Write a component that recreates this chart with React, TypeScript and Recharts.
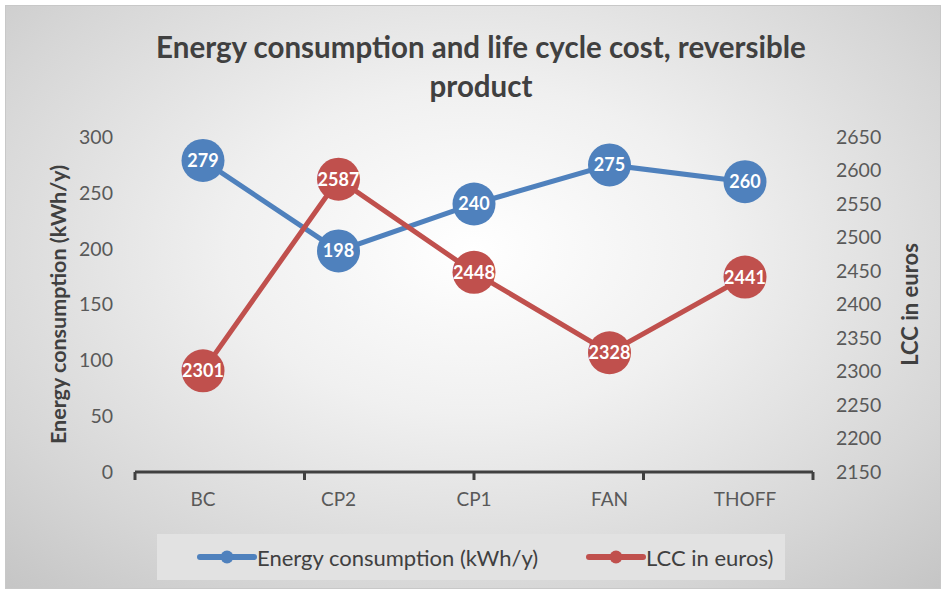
import { Label, Line, LineChart, XAxis, YAxis } from "recharts";

const categories = ["BC", "CP2", "CP1", "FAN", "THOFF"];
const energyValues = [279, 198, 240, 275, 260];
const lccValues = [2301, 2587, 2448, 2328, 2441];
const energyTicks = [0, 50, 100, 150, 200, 250, 300];
const lccTicks = [2150, 2200, 2250, 2300, 2350, 2400, 2450, 2500, 2550, 2600, 2650];
const boundaryTicks = [0, 1, 2, 3, 4, 5];

const data = categories.map((name, i) => ({ name, energy: energyValues[i], lcc: lccValues[i] }));

const FONT = "Lato, 'Open Sans', sans-serif";
const BLUE = "#4f81bd";
const RED = "#c0504d";

const renderDot = (color: string) => (props: any) => {
  const { cx, cy, value, index } = props;
  return (
    <g key={`${color}-${index}`}>
      <circle cx={cx} cy={cy} r={21.5} fill={color} />
      <text x={cx} y={cy} dy="0.36em" textAnchor="middle" fill="#fff" fontSize={18} fontWeight="bold" fontFamily={FONT}>
        {value}
      </text>
    </g>
  );
};

function LegendItem({ color, text, left }: { color: string; text: string; left: number }) {
  return (
    <div style={{ position: "absolute", left, top: 0, height: 46, display: "flex", alignItems: "center" }}>
      <svg width={60} height={14}>
        <line x1={3} x2={57} y1={7} y2={7} stroke={color} strokeWidth={6} strokeLinecap="round" />
        <circle cx={30} cy={7} r={6.5} fill={color} />
      </svg>
      <span style={{ fontSize: 22, color: "#404040" }}>{text}</span>
    </div>
  );
}

export default function App() {
  return (
    <div style={{ position: "absolute", left: 0, top: 0, width: 944, height: 592, background: "#fff", fontFamily: FONT }}>
      <div
        style={{
          position: "absolute",
          left: 5,
          top: 5,
          width: 934,
          height: 582,
          border: "1px solid #c8c8c8",
          background: "radial-gradient(ellipse 75% 80% at 50% 42%, #ffffff 0%, #f0f0f0 35%, #d6d6d6 75%, #c4c4c4 100%)",
        }}
      />
      <div
        style={{
          position: "absolute",
          left: 0,
          top: 27,
          width: 962,
          textAlign: "center",
          fontSize: 29.5,
          fontWeight: "bold",
          color: "#404040",
          lineHeight: "39px",
        }}
      >
        Energy consumption and life cycle cost, reversible
        <br />
        product
      </div>
      <div style={{ position: "absolute", left: 0, top: 0 }}>
        <LineChart width={944} height={592} data={data} margin={{ top: 137, right: 71, bottom: 79, left: 75 }}>
          <XAxis
            xAxisId="bounds"
            type="number"
            domain={[0, 5]}
            ticks={boundaryTicks}
            height={1}
            tick={() => <text />}
            tickSize={8}
            axisLine={{ stroke: "#404040", strokeWidth: 3 }}
            tickLine={{ stroke: "#404040", strokeWidth: 3 }}
          />
          <XAxis
            xAxisId="cat"
            dataKey="name"
            height={40}
            padding={{ left: 68, right: 68 }}
            axisLine={false}
            tickLine={false}
            tickMargin={14}
            tick={{ fill: "#595959", fontSize: 19, fontFamily: FONT }}
          />
          <YAxis
            yAxisId="left"
            domain={[0, 300]}
            ticks={energyTicks}
            width={60}
            axisLine={false}
            tickLine={false}
            tickSize={0}
            tickMargin={22}
            tick={{ fill: "#595959", fontSize: 19.5, fontFamily: FONT }}
          >
            <Label
              value="Energy consumption (kWh/y)"
              angle={-90}
              position="center"
              dx={-47}
              style={{ fill: "#404040", fontSize: 21.5, fontWeight: "bold", fontFamily: FONT }}
            />
          </YAxis>
          <YAxis
            yAxisId="right"
            orientation="right"
            domain={[2150, 2650]}
            ticks={lccTicks}
            width={60}
            axisLine={false}
            tickLine={false}
            tickSize={0}
            tickMargin={23}
            tick={{ fill: "#595959", fontSize: 19.5, fontFamily: FONT, textAnchor: "start" }}
          >
            <Label
              value="LCC in euros"
              angle={-90}
              position="center"
              dx={67}
              style={{ fill: "#404040", fontSize: 22, fontWeight: "bold", fontFamily: FONT }}
            />
          </YAxis>
          <Line
            xAxisId="cat"
            yAxisId="left"
            dataKey="energy"
            stroke={BLUE}
            strokeWidth={5}
            dot={renderDot(BLUE)}
            activeDot={false}
            isAnimationActive={false}
          />
          <Line
            xAxisId="cat"
            yAxisId="right"
            dataKey="lcc"
            stroke={RED}
            strokeWidth={5}
            dot={renderDot(RED)}
            activeDot={false}
            isAnimationActive={false}
          />
        </LineChart>
      </div>
      <div style={{ position: "absolute", left: 157, top: 534, width: 628, height: 46, background: "#e2e2e2" }}>
        <LegendItem color={BLUE} text="Energy consumption (kWh/y)" left={40} />
        <LegendItem color={RED} text="LCC in euros)" left={429} />
      </div>
    </div>
  );
}
